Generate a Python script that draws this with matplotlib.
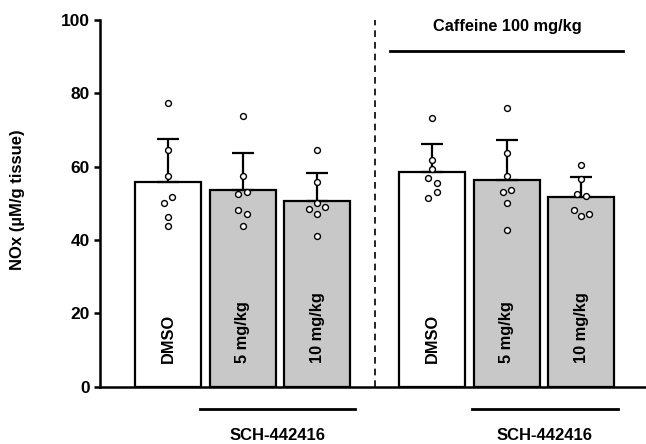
import numpy as np
from matplotlib import pyplot as plt

plt.rcParams['font.family'] = ['Liberation Sans', 'DejaVu Sans']
plt.rcParams['font.weight'] = 'bold'

# Data
groups = ["DMSO", "5 mg/kg", "10 mg/kg", "DMSO", "5 mg/kg", "10 mg/kg"]
means = [55.7, 53.6, 50.6, 58.5, 56.4, 51.6]
err_top = [67.6, 63.6, 58.2, 66.1, 67.2, 57.2]
points = [
    [77.4, 64.5, 57.5, 51.8, 50.1, 46.3, 43.9],
    [73.9, 57.5, 52.5, 53.0, 48.3, 47.0, 43.9],
    [64.5, 55.8, 50.1, 48.5, 49.0, 47.2, 41.2],
    [73.4, 61.8, 59.3, 56.8, 55.5, 53.0, 51.5],
    [75.9, 63.6, 57.5, 53.1, 53.6, 50.1, 42.7],
    [60.5, 56.6, 52.5, 51.9, 48.2, 46.5, 47.0],
]
# horizontal scatter of the dots (in bar units)
jitter = [
    [0, 0, 0, 0.055, -0.06, 0, 0],
    [0, 0, -0.055, 0.055, -0.055, 0.055, 0],
    [0, 0, 0, -0.105, 0.105, 0, 0],
    [0, 0, 0, -0.055, 0.055, 0.055, -0.055],
    [0, 0, 0, -0.055, 0.055, 0, 0],
    [0, 0, -0.055, 0.055, -0.105, 0, 0.105],
]
colors = ["white", "#c8c8c8", "#c8c8c8", "white", "#c8c8c8", "#c8c8c8"]
xpos = np.array([0, 1, 2, 3.55, 4.55, 5.55])

fig = plt.figure(figsize=(6.46, 4.44), dpi=100)
ax = fig.add_axes([100 / 646, 57.3 / 444, 1 - 100 / 646, (386.7 - 20) / 444])

yerr = np.array(err_top) - np.array(means)
ax.bar(xpos, means, width=0.886, color=colors, edgecolor="black", linewidth=1.6, zorder=2)
ax.errorbar(xpos, means, yerr=[np.zeros(6), yerr], fmt="none", ecolor="black",
            elinewidth=1.6, capsize=8, capthick=1.6, zorder=3)
for i in range(6):
    ax.scatter(xpos[i] + np.array(jitter[i]), points[i], s=18, facecolor="white",
               edgecolor="black", linewidth=1.0, zorder=4)
    ax.text(xpos[i], 6.4, groups[i], rotation=90, ha="center", va="bottom",
            fontsize=11.8, fontweight="bold")

ax.set_xlim(-0.913, 6.416)
ax.set_ylim(0, 100)
ax.set_yticks([0, 20, 40, 60, 80, 100])
ax.set_xticks([])
ax.tick_params(axis="y", labelsize=12.5, width=1.8, length=4)
for lab in ax.get_yticklabels():
    lab.set_fontweight("bold")
ax.spines["top"].set_visible(False)
ax.spines["right"].set_visible(False)
ax.spines["left"].set_linewidth(1.8)
ax.spines["bottom"].set_linewidth(1.8)
fig.text(18 / 646, 1 - 200 / 444, "NOx (µM/g tissue)", rotation=90, ha="center", va="center",
         fontsize=12, fontweight="bold")

# dashed separator
ax.plot([2.78, 2.78], [0, 100], color="black", linestyle=(0, (4, 3)), linewidth=1.2, clip_on=False)

# caffeine bracket
ax.plot([2.98, 6.11], [91.5, 91.5], color="black", linewidth=2)
ax.text(4.55, 98.3, "Caffeine 100 mg/kg", ha="center", va="center", fontsize=11.8, fontweight="bold")

# SCH-442416 brackets below axis
for x0, x1 in [(0.43, 2.51), (4.08, 6.04)]:
    ax.plot([x0, x1], [-6.0, -6.0], color="black", linewidth=2, clip_on=False)
    ax.text((x0 + x1) / 2, -13.2, "SCH-442416", ha="center", va="center",
            fontsize=12, fontweight="bold")

fig.savefig("out.png", dpi=100)
